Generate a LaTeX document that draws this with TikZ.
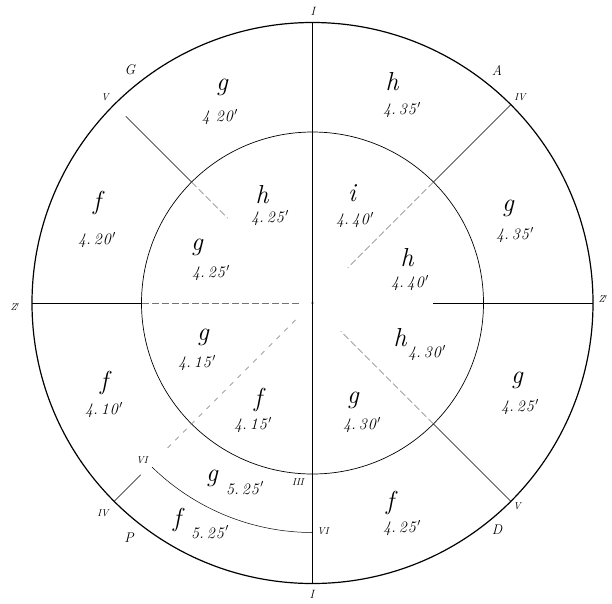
\documentclass[tikz,border=0pt]{standalone}
\usetikzlibrary{calc}
\begin{document}
\begin{tikzpicture}[x=1pt,y=1pt,
  outerc/.style={line width=1.2pt},
  innerc/.style={line width=0.7pt},
  radial/.style={line width=0.5pt},
  faint/.style={line width=0.4pt, black!55, dash pattern=on 7pt off 3pt},
  letter/.style={font=\fontsize{26}{26}\selectfont\itshape, inner sep=0pt},
  num/.style={font=\fontsize{16}{16}\selectfont\itshape, inner sep=0pt},
  mk/.style={font=\fontsize{10}{10}\selectfont\itshape, inner sep=0pt}
]
\useasboundingbox (0,0) rectangle (612,-603);
\coordinate (C) at (312.5,-303);
% circles
\draw[outerc] (C) circle (280.5);
\draw[innerc] (C) circle (171);
\fill (C) circle (1.2pt);
% key points
\coordinate (Itop) at ($(C)+(90:280.5)$);
\coordinate (Ibot) at ($(C)+(270:280.5)$);
\coordinate (Zl) at ($(C)+(180:280.5)$);
\coordinate (Zli) at ($(C)+(180:171)$);
\coordinate (Zlc) at ($(C)+(180:12)$);
\coordinate (Zr) at ($(C)+(0:280.5)$);
\coordinate (Zrs) at ($(C)+(0:120.5)$);
\coordinate (NEo) at ($(C)+(45:280.5)$);
\coordinate (NEi) at ($(C)+(45:171)$);
\coordinate (NEc) at ($(C)+(45:50)$);
\coordinate (NWo) at ($(C)+(135:264)$);
\coordinate (NWi) at ($(C)+(135:171)$);
\coordinate (NWc) at ($(C)+(135:120)$);
\coordinate (SEo) at ($(C)+(315:280.5)$);
\coordinate (SEi) at ($(C)+(315:171)$);
\coordinate (SEc) at ($(C)+(315:40)$);
\coordinate (SWo) at ($(C)+(225:280.5)$);
\coordinate (SWs) at ($(C)+(225:243)$);
\coordinate (SWd) at ($(C)+(225:205)$);
\coordinate (SWc) at ($(C)+(225:20)$);
\coordinate (ArcS) at ($(C)+(225.6:229.5)$);
% radial lines
\draw[radial] (Itop) -- (Ibot);
\draw[radial] (Zl) -- (Zli);
\draw[faint] (Zli) -- (Zlc);
\draw[radial] (Zrs) -- (Zr);
\draw[radial] (NEo) -- (NEi);
\draw[faint] (NEi) -- (NEc);
\draw[radial] (NWo) -- (NWi);
\draw[faint] (NWi) -- (NWc);
\draw[radial] (SEo) -- (SEi);
\draw[faint] (SEi) -- (SEc);
\draw[radial] (SWo) -- (SWs);
\draw[faint, dash pattern=on 5pt off 6pt] (SWd) -- (SWc);
% inner arc
\draw[radial] (ArcS) arc[start angle=225.6, end angle=270, radius=229.5];
% boundary marks
\node[mk, font=\fontsize{12}{12}\selectfont\itshape] (mItop) at (313,-11) {I};
\node[mk, font=\fontsize{12}{12}\selectfont\itshape] (mIbot) at (312,-594) {I};
\node[mk, font=\fontsize{14}{14}\selectfont\itshape] (mA) at (497,-70) {A};
\node[mk] (mIVne) at (520,-97) {IV};
\node[mk, font=\fontsize{14}{14}\selectfont\itshape] (mG) at (130,-70) {G};
\node[mk] (mVnw) at (105,-97) {V};
\node[mk] (mZl) at (15,-307) {Z$'$};
\node[mk] (mZr) at (603,-299) {Z$'$};
\node[mk] (mIVsw) at (103,-513) {IV};
\node[mk, font=\fontsize{14}{14}\selectfont\itshape] (mP) at (129,-538) {P};
\node[mk] (mVIa) at (142,-460) {VI};
\node[mk] (mIII) at (298,-482) {III};
\node[mk] (mVIb) at (323,-531) {VI};
\node[mk] (mVse) at (517,-506) {V};
\node[mk, font=\fontsize{14}{14}\selectfont\itshape] (mD) at (497,-530) {D};
% outer ring sectors
\node[letter] (l1) at (222,-87) {g};
\node[num] (n1) at (220,-117) {4\kern6pt 2\kern1pt 0\kern1.5pt$'$};
\node[letter] (l2) at (392,-82) {h};
\node[num] (n2) at (402,-110) {4.\kern3pt 3\kern1pt 5\kern1.5pt$'$};
\node[letter] (l3) at (97,-203) {f};
\node[num] (n3) at (97,-240) {4.\kern3pt 2\kern1pt 0\kern1.5pt$'$};
\node[letter] (l4) at (508,-208) {g};
\node[num] (n4) at (515,-235) {4.\kern3pt 3\kern1pt 5\kern1.5pt$'$};
\node[letter] (l5) at (104,-383) {f};
\node[num] (n5) at (104,-410) {4.\kern3pt 1\kern1pt 0\kern1.5pt$'$};
\node[letter] (l6) at (517,-380) {g};
\node[num] (n6) at (520,-407) {4.\kern3pt 2\kern1pt 5\kern1.5pt$'$};
\node[letter] (l7) at (390,-503) {f};
\node[num] (n7) at (402,-528) {4.\kern3pt 2\kern1pt 5\kern1.5pt$'$};
\node[letter] (l8) at (212,-478) {g};
\node[num] (n8) at (245,-488) {5.\kern3pt 2\kern1pt 5\kern1.5pt$'$};
\node[letter] (l9) at (177,-520) {f};
\node[num] (n9) at (210,-532) {5.\kern3pt 2\kern1pt 5\kern1.5pt$'$};
% inner circle sectors
\node[letter] (i1) at (262,-195) {h};
\node[num] (j1) at (270,-218) {4.\kern3pt 2\kern1pt 5\kern1.5pt$'$};
\node[letter] (i2) at (352,-193) {i};
\node[num] (j2) at (355,-220) {4.\kern3pt 4\kern1pt 0\kern1.5pt$'$};
\node[letter] (i3) at (197,-247) {g};
\node[num] (j3) at (211,-273) {4.\kern3pt 2\kern1pt 5\kern1.5pt$'$};
\node[letter] (i4) at (407,-258) {h};
\node[num] (j4) at (410,-283) {4.\kern3pt 4\kern1pt 0\kern1.5pt$'$};
\node[letter] (i5) at (203,-337) {g};
\node[num] (j5) at (197,-363) {4.\kern3pt 1\kern1pt 5\kern1.5pt$'$};
\node[letter] (i6) at (400,-338) {h};
\node[num] (j6) at (427,-353) {4.\kern3pt 3\kern1pt 0\kern1.5pt$'$};
\node[letter] (i7) at (258,-400) {f};
\node[num] (j7) at (253,-425) {4.\kern3pt 1\kern1pt 5\kern1.5pt$'$};
\node[letter] (i8) at (353,-400) {g};
\node[num] (j8) at (362,-425) {4.\kern3pt 3\kern1pt 0\kern1.5pt$'$};
\end{tikzpicture}
\end{document}
